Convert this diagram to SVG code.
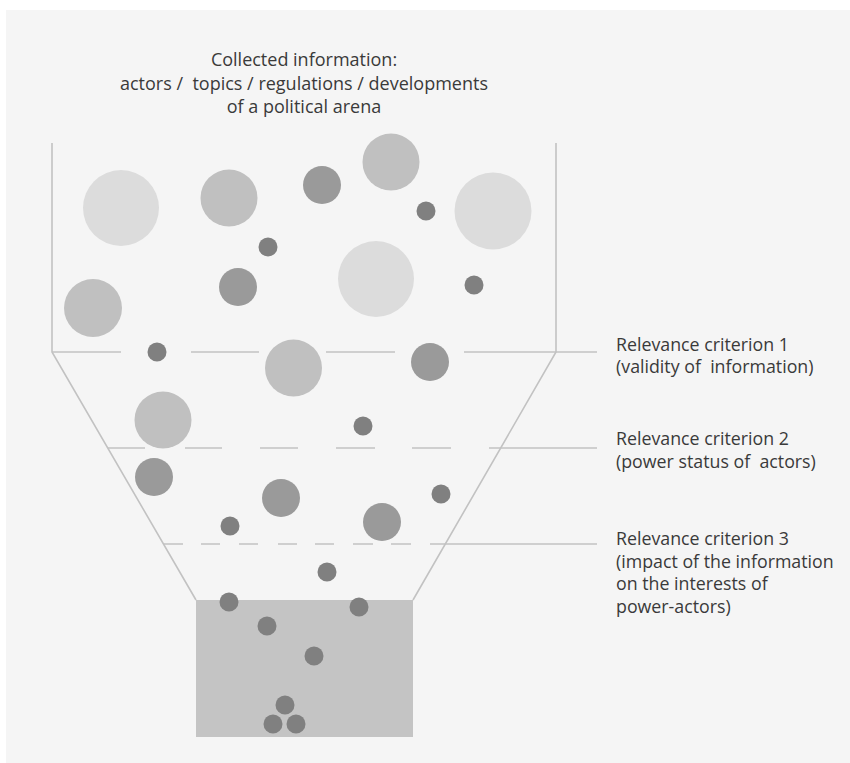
<svg xmlns="http://www.w3.org/2000/svg" width="850" height="763" viewBox="0 0 850 763">
<style>
.ln{stroke:#c2c2c2;stroke-width:1.6;fill:none}
.c1{fill:#dcdcdc}
.c2{fill:#c0c0c0}
.c3{fill:#9a9a9a}
.c4{fill:#808080}
text{font-family:"Open Sans","Liberation Sans",sans-serif;font-size:17.8px;fill:#3a3a3a;white-space:pre}
.ctr{text-anchor:middle;font-size:18px}
</style>
<rect x="0" y="0" width="850" height="763" fill="#ffffff"/>
<rect x="6" y="10" width="844" height="753" fill="#f5f5f5"/>
<g id="title">
<text class="ctr" x="304" y="66">Collected information:</text>
<text class="ctr" x="304" y="90" xml:space="preserve">actors /  topics / regulations / developments</text>
<text class="ctr" x="304" y="113">of a political arena</text>
</g>
<g id="container">
<rect x="196" y="600" width="217" height="137" fill="#c4c4c4"/>
</g>
<g id="connectors">
<path class="ln" d="M52,143 V352 L196,600 M556,143 V352 L413,600"/>
<g id="criterion1-line">
<path class="ln" d="M52,352 H121 M191,352 H259 M326,352 H395 M464,352 H597"/>
</g>
<g id="criterion2-line">
<path class="ln" d="M108,448 H145 M185,448 H222 M260,448 H298 M336,448 H375 M412,448 H451 M489,448 H597"/>
</g>
<g id="criterion3-line">
<path class="ln" d="M164,544 H183 M201,544 H220 M239,544 H258 M278,544 H297 M315,544 H334 M353,544 H373 M391,544 H411 M430,544 H597"/>
</g>
</g>
<g id="items">
<circle class="c1" cx="121" cy="208" r="38"/>
<circle class="c2" cx="229" cy="198" r="28.5"/>
<circle class="c3" cx="322" cy="185" r="19"/>
<circle class="c2" cx="391" cy="162" r="28.5"/>
<circle class="c4" cx="426" cy="211" r="9.5"/>
<circle class="c1" cx="493" cy="211" r="38.5"/>
<circle class="c4" cx="268" cy="247" r="9.5"/>
<circle class="c3" cx="238" cy="287" r="19"/>
<circle class="c1" cx="376" cy="279" r="38"/>
<circle class="c4" cx="474" cy="285" r="9.5"/>
<circle class="c2" cx="93" cy="308" r="29"/>
<circle class="c4" cx="157" cy="352" r="9.5"/>
<circle class="c2" cx="293.5" cy="368" r="28.5"/>
<circle class="c3" cx="430" cy="362" r="19"/>
<circle class="c2" cx="163" cy="420" r="28.5"/>
<circle class="c4" cx="363" cy="426" r="9.5"/>
<circle class="c3" cx="154" cy="477" r="19"/>
<circle class="c3" cx="281" cy="498" r="19"/>
<circle class="c4" cx="441" cy="494" r="9.5"/>
<circle class="c4" cx="230" cy="526" r="9.5"/>
<circle class="c3" cx="382" cy="522" r="19"/>
<circle class="c4" cx="327" cy="572" r="9.5"/>
<circle class="c4" cx="229" cy="602" r="9.5"/>
<circle class="c4" cx="359" cy="607" r="9.5"/>
<circle class="c4" cx="267" cy="626" r="9.5"/>
<circle class="c4" cx="314" cy="656" r="9.5"/>
<circle class="c4" cx="285" cy="705" r="9.5"/>
<circle class="c4" cx="273" cy="724" r="9.5"/>
<circle class="c4" cx="296" cy="724" r="9.5"/>
</g>
<g id="label1">
<text x="616" y="351">Relevance criterion 1</text>
<text x="616" y="373" xml:space="preserve">(validity of  information)</text>
</g>
<g id="label2">
<text x="616" y="445">Relevance criterion 2</text>
<text x="616" y="468" xml:space="preserve">(power status of  actors)</text>
</g>
<g id="label3">
<text x="616" y="545">Relevance criterion 3</text>
<text x="616" y="568">(impact of the information</text>
<text x="616" y="590">on the interests of</text>
<text x="616" y="613">power-actors)</text>
</g>
</svg>
